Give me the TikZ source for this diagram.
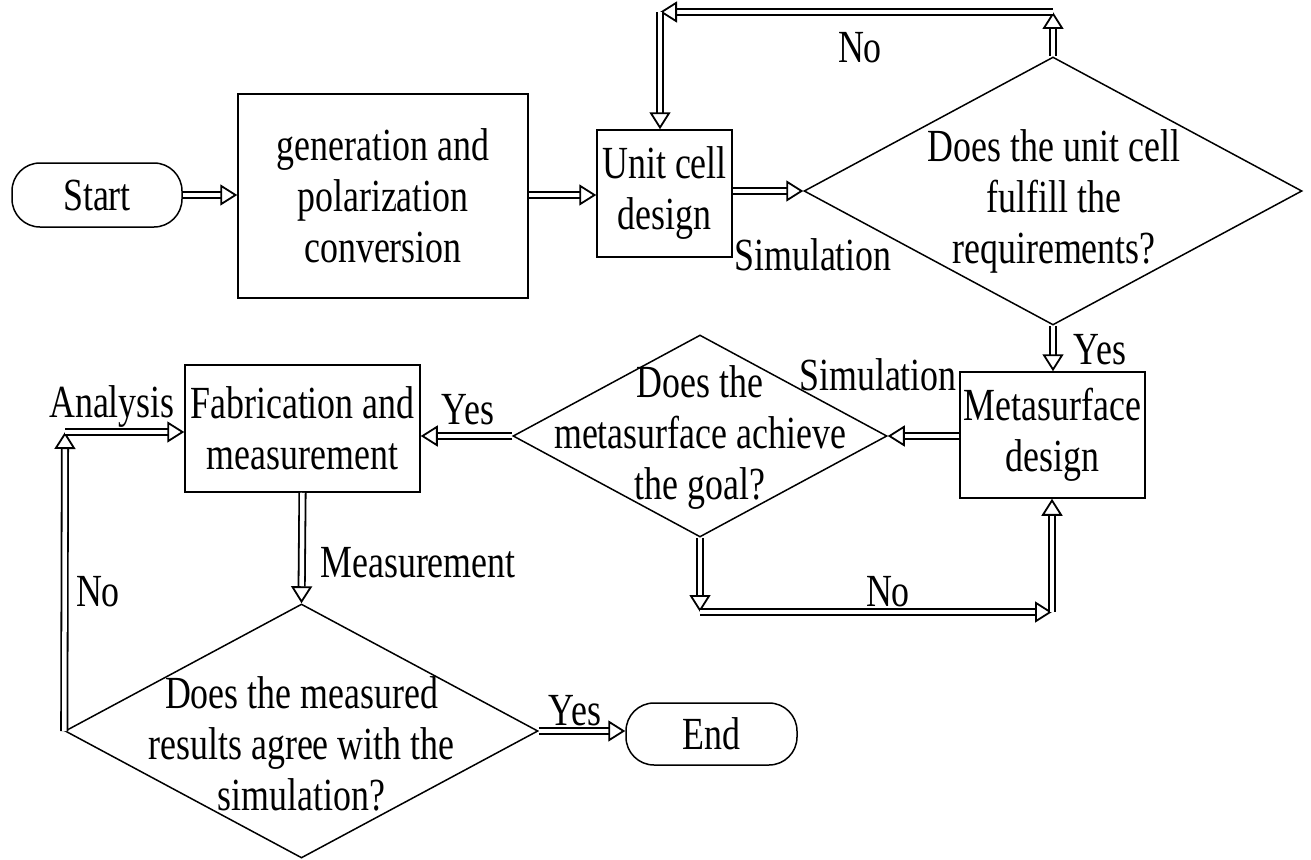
\documentclass[tikz,border=0pt]{standalone}
\usepackage{fontspec}
\setmainfont{Liberation Serif}[FakeStretch=0.78]
\usetikzlibrary{shapes.geometric,arrows.meta}

\tikzset{
  procbox/.style={draw=black, line width=1.5pt, inner sep=0pt, align=center},
  termbox/.style={procbox, rounded corners=28pt},
  decision/.style={draw=black, line width=1.5pt, diamond, inner sep=0pt},
  flow/.style={draw=black, line width=1.8pt, double=white, double distance=4.5pt,
    -{Triangle[open, fill=white, line width=1.8pt, length=17pt, width=21pt]}},
  tag/.style={inner sep=0pt, align=center}
}

\begin{document}
\begin{tikzpicture}[x=1pt,y=-1pt,font=\fontsize{46}{51}\selectfont]
\useasboundingbox (0,0) rectangle (1311,859);
\node [termbox, minimum width=170pt, minimum height=64pt] (start) at (97,195) {Start};
\node [procbox, minimum width=290pt, minimum height=204pt] (gen) at (383,196) {generation and\\polarization\\conversion};
\node [procbox, minimum width=135pt, minimum height=127pt] (unit) at (664.5,193.5) {Unit cell\\design};
\node [decision, minimum width=498pt, minimum height=268pt] (dunit) at (1053,191) {};
\node [tag] (dunittxt) at (1054,201) {Does the unit cell\\fulfill the\\requirements?};
\node [procbox, minimum width=185pt, minimum height=126pt] (meta) at (1052.5,435) {Metasurface\\design};
\node [decision, minimum width=374pt, minimum height=202pt] (dgoal) at (700,436) {};
\node [tag] (dgoaltxt) at (700,437) {Does the\\metasurface achieve\\the goal?};
\node [procbox, minimum width=235pt, minimum height=127pt] (fab) at (302.5,428.5) {Fabrication and\\measurement};
\node [decision, minimum width=473pt, minimum height=254pt] (dmeas) at (301.5,731) {};
\node [tag] (dmeastxt) at (301.5,744) {Does the measured\\results agree with the\\simulation?};
\node [termbox, minimum width=171pt, minimum height=62pt] (end) at (711.5,734) {End};

\coordinate (topR) at (1053,12);
\coordinate (topL) at (660,12);
\coordinate (botL) at (700,612);
\coordinate (botR) at (1052,612);
\coordinate (leftT) at (65,432);

\draw [flow] (start.east) -- (gen.west |- start.east);
\draw [flow] (gen.east |- start.east) -- (unit.west |- start.east);
\draw [flow] (unit.east |- dunit.west) -- (dunit.west);
\draw [flow] (dunit.north) -- (topR);
\draw [flow] (topR) -- (topL);
\draw [flow] (topL) -- (topL |- unit.north);
\draw [flow] (dunit.south) -- (dunit.south |- meta.north);
\draw [flow] (meta.west |- dgoal.east) -- (dgoal.east);
\draw [flow] (dgoal.west) -- (dgoal.west -| fab.east);
\draw [flow] (dgoal.south) -- (botL);
\draw [flow] (botL) -- (botR);
\draw [flow] (botR) -- (botR |- meta.south);
\draw [flow] (fab.south) -- (dmeas.north);
\draw [flow] (dmeas.east) -- (end.west |- dmeas.east);
\draw [flow] (dmeas.west) -- (leftT);
\draw [flow] (leftT) -- (leftT -| fab.west);

\node [tag] (lno1) at (860,48) {No};
\node [tag] (lsim1) at (813,255) {Simulation};
\node [tag] (lyes1) at (1100,350) {Yes};
\node [tag] (lsim2) at (878,375) {Simulation};
\node [tag] (lyes2) at (468,410) {Yes};
\node [tag] (lana) at (112,407) {Analysis};
\node [tag] (lmeas) at (418,563) {Measurement};
\node [tag] (lno2) at (888,592) {No};
\node [tag] (lno3) at (98,592) {No};
\node [tag] (lyes3) at (575,711) {Yes};
\end{tikzpicture}
\end{document}
